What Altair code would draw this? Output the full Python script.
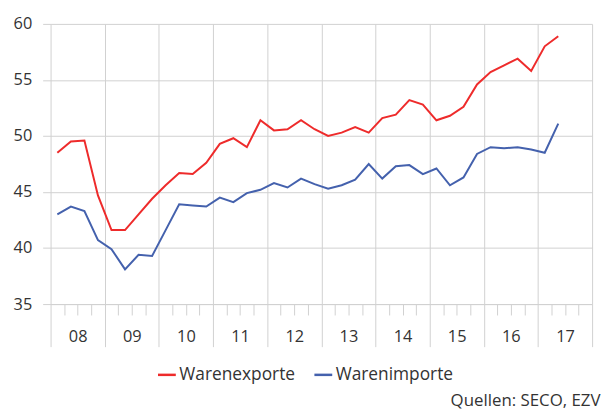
import altair as alt
import pandas as pd

years = ["08", "09", "10", "11", "12", "13", "14", "15", "16", "17"]
exports = [48.5, 49.5, 49.6, 44.7, 41.6, 41.6, 43.0, 44.4, 45.6, 46.7, 46.6, 47.6,
           49.3, 49.8, 49.0, 51.4, 50.5, 50.6, 51.4, 50.6, 50.0, 50.3, 50.8, 50.3,
           51.6, 51.9, 53.2, 52.8, 51.4, 51.8, 52.6, 54.6, 55.7, 56.3, 56.9, 55.8,
           58.0, 58.9]
imports = [43.0, 43.7, 43.3, 40.7, 39.9, 38.1, 39.4, 39.3, 41.6, 43.9, 43.8, 43.7,
           44.5, 44.1, 44.9, 45.2, 45.8, 45.4, 46.2, 45.7, 45.3, 45.6, 46.1, 47.5,
           46.2, 47.3, 47.4, 46.6, 47.1, 45.6, 46.3, 48.4, 49.0, 48.9, 49.0, 48.8,
           48.5, 51.1]
series = ["Warenexporte", "Warenimporte"]
colors = ["#ee2b2b", "#4461ad"]

rows = []
for name, vals in zip(series, [exports, imports]):
    for i, v in enumerate(vals):
        rows.append({"q": i + 0.5, "value": v, "Serie": name})
df = pd.DataFrame(rows)

n_slots = len(years) * 4
label_expr = ("datum.value % 4 == 2 ? " + str(years) +
              "[floor(datum.value / 4)] : ''")

FONT = "Open Sans"

chart = alt.Chart(df).mark_line(strokeWidth=2).encode(
    x=alt.X("q:Q", scale=alt.Scale(domain=[0, n_slots], nice=False, zero=False),
            axis=alt.Axis(values=list(range(0, n_slots + 1)), title=None,
                          labelExpr=label_expr, labelFlush=False, labelOverlap=False,
                          grid=True,
                          gridOpacity={"condition": {"test": "datum.value % 4 == 0", "value": 1}, "value": 0},
                          tickSize={"condition": {"test": "datum.value % 4 == 0", "value": 43}, "value": 11},
                          tickColor="#d0d0d0", domainColor="#d0d0d0", gridColor="#d0d0d0",
                          labelPadding=14, labelFontSize=16.5, labelColor="#333333",
                          labelFont=FONT)),
    y=alt.Y("value:Q", scale=alt.Scale(domain=[35, 60], nice=False, zero=False),
            axis=alt.Axis(values=[35, 40, 45, 50, 55, 60], title=None, domain=False,
                          tickSize=8, tickColor="#d0d0d0", gridColor="#d0d0d0",
                          labelPadding=11, labelFontSize=16.5, labelColor="#333333",
                          labelFont=FONT)),
    color=alt.Color("Serie:N", scale=alt.Scale(domain=series, range=colors),
                    legend=alt.Legend(title=None, orient="none", direction="horizontal",
                                      legendX=107, legendY=344, symbolType="stroke",
                                      symbolSize=324, symbolStrokeWidth=2.5,
                                      labelFontSize=17.5, labelFont=FONT,
                                      labelColor="#333333", columnPadding=13,
                                      labelOffset=2)),
).properties(
    width=547, height=283,
    autosize=alt.AutoSizeParams(type="none"),
    padding={"left": 43, "top": 14, "right": 10, "bottom": 112},
    title=alt.TitleParams("Quellen: SECO, EZV", orient="bottom", anchor="end",
                          fontSize=17, font=FONT, fontWeight="normal",
                          color="#333333", offset=10, dx=8),
).configure_view(strokeWidth=0)

chart.save("out.html", embed_options={"renderer": "svg", "actions": False})
